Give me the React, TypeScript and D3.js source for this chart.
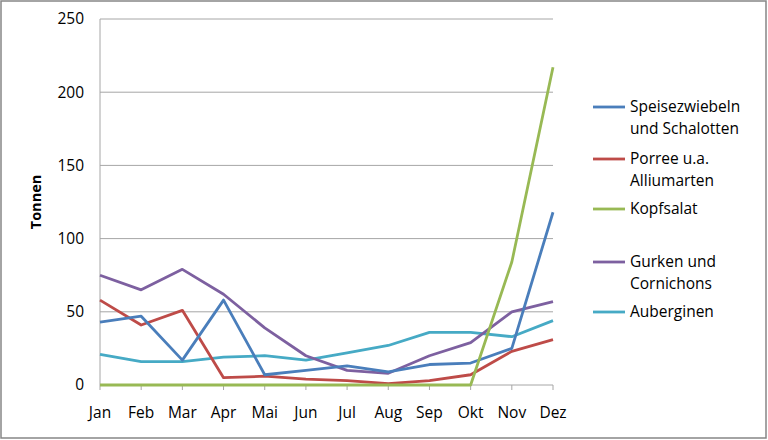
import React from "react";
import * as d3 from "d3";

const months = ["Jan", "Feb", "Mar", "Apr", "Mai", "Jun", "Jul", "Aug", "Sep", "Okt", "Nov", "Dez"];
const speisezwiebeln = [43, 47, 17, 58, 7, 10, 13, 9, 14, 15, 25, 118];
const porree = [58, 41, 51, 5, 6, 4, 3, 1, 3, 7, 23, 31];
const kopfsalat = [0, 0, 0, 0, 0, 0, 0, 0, 0, 0, 84, 217];
const gurken = [75, 65, 79, 62, 39, 20, 10, 8, 20, 29, 50, 57];
const auberginen = [21, 16, 16, 19, 20, 17, 22, 27, 36, 36, 33, 44];
const yTicks = [0, 50, 100, 150, 200, 250];

const seriesNames = [["Speisezwiebeln", "und Schalotten"], ["Porree u.a.", "Alliumarten"], ["Kopfsalat"], ["Gurken und", "Cornichons"], ["Auberginen"]];
const seriesValues = [speisezwiebeln, porree, kopfsalat, gurken, auberginen];
const colors = ["#4A7EBB", "#BE4B48", "#98B954", "#7D60A0", "#46AAC5"];
const legendY = [107, 159, 209, 262, 312];
const drawOrder = [4, 3, 1, 0, 2];

const W = 768, H = 440;
const font = "'Open Sans', sans-serif";

export default function App() {
  const x = d3.scalePoint<string>().domain(months).range([100, 553]);
  const y = d3.scaleLinear().domain([0, 250]).range([385, 19]);
  const line = d3.line<number>().x((_, i) => x(months[i]) as number).y((d) => y(d));
  return (
    <svg width={W} height={H} style={{ position: "absolute", left: 0, top: 0 }}>
      <rect x={0} y={0} width={W} height={H} fill="#fff" />
      <rect x={1} y={1} width={W - 3} height={H - 3} fill="none" stroke="#868686" strokeWidth={1.5} />
      {yTicks.map((t) => (
        <g key={t}>
          {t > 0 && <line x1={100} x2={553} y1={y(t)} y2={y(t)} stroke="#a6a6a6" strokeWidth={1} />}
          <text x={84} y={y(t)} dy="0.35em" textAnchor="end" fontFamily={font} fontSize={15.5} fill="#000">{t}</text>
        </g>
      ))}
      <line x1={100} x2={100} y1={19} y2={385} stroke="#a6a6a6" strokeWidth={1} />
      <line x1={100} x2={553} y1={385} y2={385} stroke="#a6a6a6" strokeWidth={1} />
      {months.map((m) => (
        <g key={m}>
          <line x1={x(m)} x2={x(m)} y1={385} y2={390} stroke="#a6a6a6" strokeWidth={1} />
          <text x={x(m)} y={413} dy="0.35em" textAnchor="middle" fontFamily={font} fontSize={15.5} fill="#000">{m}</text>
        </g>
      ))}
      <text transform={`translate(36,202) rotate(-90)`} textAnchor="middle" dy="0.35em" fontFamily={font} fontSize={14.5} fontWeight="bold" fill="#000">Tonnen</text>
      {drawOrder.map((i) => (
        <path key={i} d={line(seriesValues[i]) || ""} fill="none" stroke={colors[i]} strokeWidth={2.8} strokeLinejoin="round" />
      ))}
      {seriesNames.map((names, i) => (
        <g key={i}>
          <line x1={593} x2={625} y1={legendY[i]} y2={legendY[i]} stroke={colors[i]} strokeWidth={2.8} />
          {names.map((n, j) => (
            <text key={j} x={630} y={legendY[i] + j * 21.5} dy="0.35em" fontFamily={font} fontSize={15.5} fill="#000">{n}</text>
          ))}
        </g>
      ))}
    </svg>
  );
}
